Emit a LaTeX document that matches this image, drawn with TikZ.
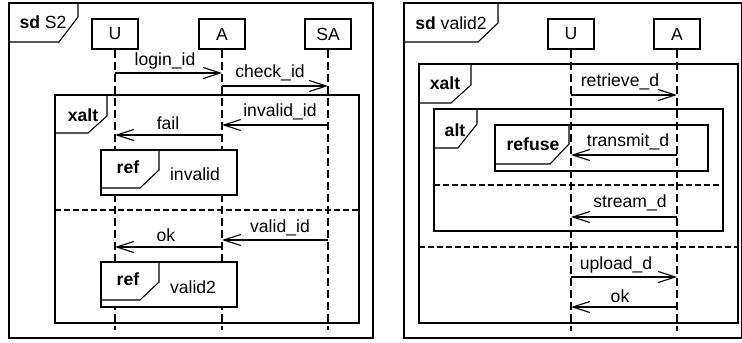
\documentclass[tikz,border=0pt]{standalone}
\usepackage{fontspec}
\setmainfont{Liberation Sans}
\usetikzlibrary{positioning,arrows.meta}

\tikzset{
  head/.style={draw, minimum width=23pt, minimum height=15pt, inner sep=0pt},
  life/.style={dash pattern=on 4pt off 2pt},
  msg/.style={-{Straight Barb[length=8.5pt,width=5.5pt]}},
  sep/.style={dash pattern=on 3pt off 1.5pt},
  lbl/.style={inner sep=0pt},
}

\begin{document}
\begin{tikzpicture}[x=0.5pt,y=-0.5pt,line width=0.55pt,font=\fontsize{8.8}{10}\selectfont]
    \useasboundingbox (0,0) rectangle (742,342);

    % sd S2
    \draw (9,3) rectangle (373,338);
    \draw (9,42) -- (59,42) -- (78,17) -- (78,3);
    \node[lbl] (sdS) at (43,22) {\textbf{sd} S2};

    \node[head] (u1) at (115,34) {U};
    \node[head] (a1) at (222,34) {A};
    \node[head] (sa1) at (328,34) {SA};
    \draw[life] (u1) -- (u1 |- 0,330);
    \draw[life] (a1) -- (a1 |- 0,330);
    \draw[life] (sa1) -- (sa1 |- 0,330);

    \draw[msg] (u1 |- 0,73) -- (a1 |- 0,73);
    \node[lbl] (login) at (165,61) {login\_id};
    \draw[msg] (a1 |- 0,86) -- (sa1 |- 0,86);
    \node[lbl] (check) at (270,73) {check\_id};

    \draw (55,95) rectangle (359,323);
    \draw (55,133) -- (88,133) -- (107,116) -- (107,95);
    \node[lbl] (xaltS) at (83,115) {\textbf{xalt}};

    \draw[msg] (sa1 |- 0,125) -- (a1 |- 0,125);
    \node[lbl] (invalidId) at (280,112) {invalid\_id};
    \draw[msg] (a1 |- 0,135) -- (u1 |- 0,135);
    \node[lbl] (fail) at (168,123) {fail};

    \draw[fill=white] (101,150) rectangle (237,195);
    \draw (101,188) -- (140,188) -- (159,170) -- (159,150);
    \node[lbl] (refA) at (128,167) {\textbf{ref}};
    \node[lbl] (invalid) at (195,174) {invalid};

    \draw[sep] (55,210) -- (359,210);

    \draw[msg] (sa1 |- 0,240) -- (a1 |- 0,240);
    \node[lbl] (validId) at (280,228) {valid\_id};
    \draw[msg] (a1 |- 0,247) -- (u1 |- 0,247);
    \node[lbl] (okS) at (166,235) {ok};

    \draw[fill=white] (101,262) rectangle (237,307);
    \draw (101,300) -- (140,300) -- (159,282) -- (159,262);
    \node[lbl] (refB) at (128,279) {\textbf{ref}};
    \node[lbl] (valid) at (193,287) {valid2};

    % sd valid2
    \draw (404,3) rectangle (742,338);
    \draw (404,42) -- (478,42) -- (498,23) -- (498,3);
    \node[lbl] (sdV) at (451,23) {\textbf{sd} valid2};

    \node[head] (u2) at (571,34) {U};
    \node[head] (a2) at (677,34) {A};
    \draw[life] (u2) -- (u2 |- 0,331);
    \draw[life] (a2) -- (a2 |- 0,331);

    \draw (419,64) rectangle (738,323);
    \draw (419,103) -- (451,103) -- (471,85) -- (471,64);
    \node[lbl] (xaltV) at (445,83) {\textbf{xalt}};

    \draw[msg] (u2 |- 0,95) -- (a2 |- 0,95);
    \node[lbl] (retrieve) at (620,82) {retrieve\_d};

    \draw (434,109) rectangle (723,231);
    \draw (434,148) -- (458,148) -- (477,124) -- (477,109);
    \node[lbl] (alt) at (455,130) {\textbf{alt}};

    \draw (495,125) rectangle (708,171);
    \draw (495,164) -- (550,164) -- (569,144) -- (569,125);
    \node[lbl] (refuse) at (533,144) {\textbf{refuse}};

    \draw[msg] (a2 |- 0,155) -- (u2 |- 0,155);
    \node[lbl] (transmit) at (628,142) {transmit\_d};

    \draw[sep] (434,185) -- (723,185);

    \draw[msg] (a2 |- 0,217) -- (u2 |- 0,217);
    \node[lbl] (stream) at (630,203) {stream\_d};

    \draw[sep] (419,247) -- (738,247);

    \draw[msg] (u2 |- 0,277) -- (a2 |- 0,277);
    \node[lbl] (upload) at (616,265) {upload\_d};
    \draw[msg] (a2 |- 0,307) -- (u2 |- 0,307);
    \node[lbl] (okV) at (620,296) {ok};
\end{tikzpicture}
\end{document}
